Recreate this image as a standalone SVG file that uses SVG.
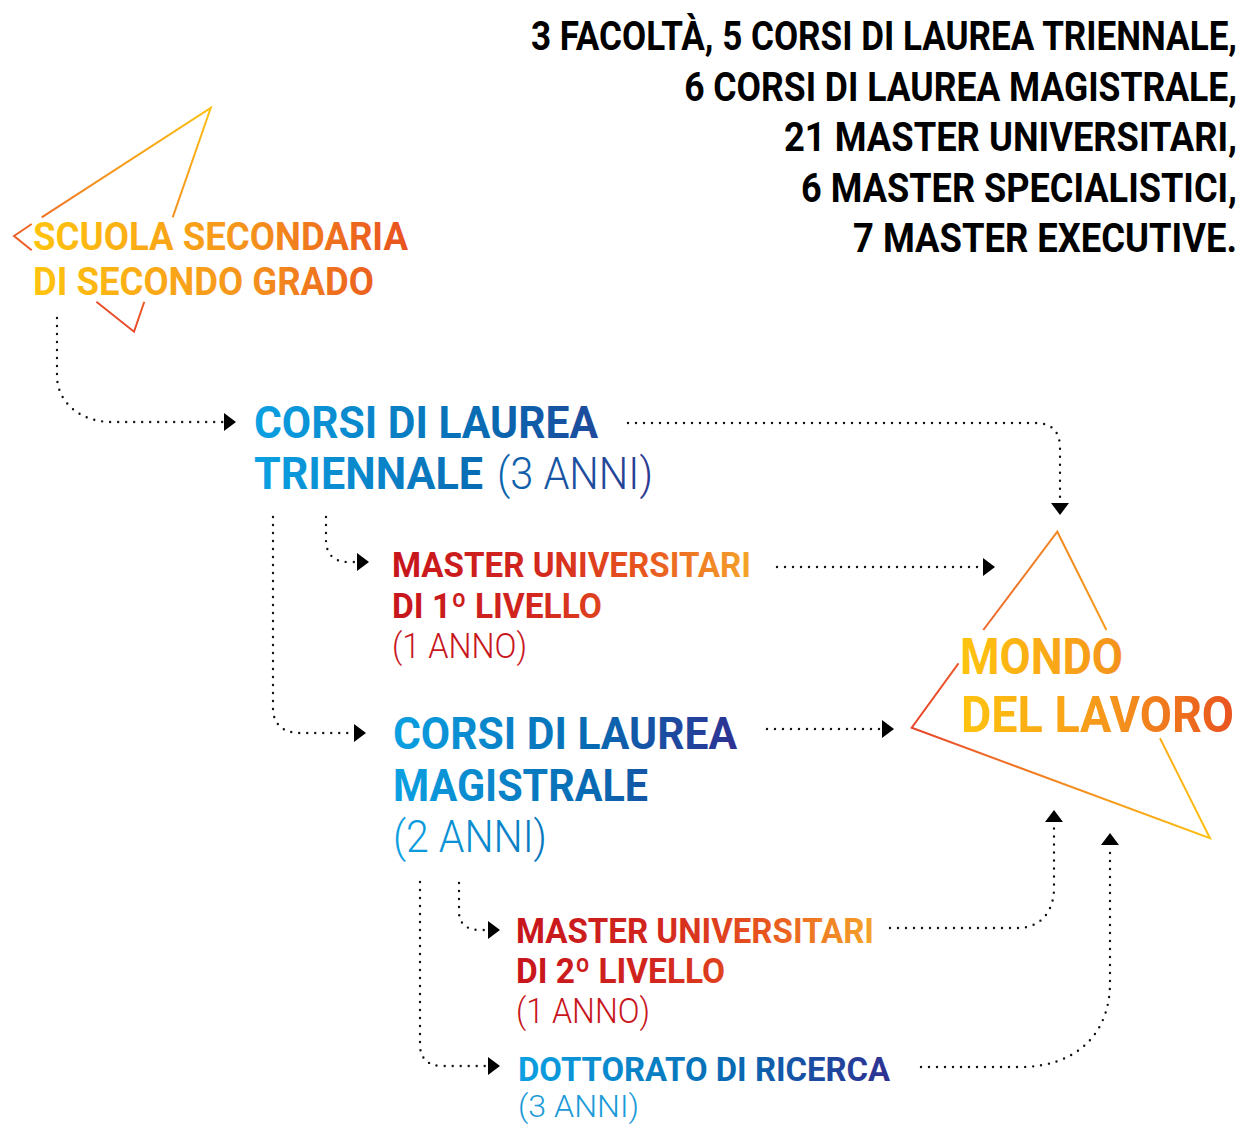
<svg xmlns="http://www.w3.org/2000/svg" width="1241" height="1124" viewBox="0 0 1241 1124">
  <defs>
    <style>
      text { font-family: Roboto, "Liberation Sans", sans-serif; }
      .b { font-weight: 700; }
      .r { font-weight: 300; }
      .blk { fill: #000; font-size: 40px; font-weight: 700; text-anchor: end; }
      .dot { fill: none; stroke: #111; stroke-width: 2.4; stroke-linecap: round; stroke-dasharray: 0 8; marker-end: url(#arr); }
      .tri { fill: none; stroke-width: 2; stroke-linejoin: miter; stroke-linecap: butt; }
    </style>
    <marker id="arr" viewBox="0 0 12 18" refX="0" refY="9" markerWidth="12" markerHeight="18" markerUnits="userSpaceOnUse" orient="auto">
      <path d="M0,0 L12,9 L0,18 Z" fill="#000"/>
    </marker>
    <linearGradient id="gTri1" gradientUnits="userSpaceOnUse" x1="210" y1="108" x2="110" y2="330">
      <stop offset="0" stop-color="#FDC010"/>
      <stop offset="0.5" stop-color="#F38E20"/>
      <stop offset="1" stop-color="#E8432A"/>
    </linearGradient>
    <linearGradient id="gTri2" gradientUnits="userSpaceOnUse" x1="912" y1="0" x2="1210" y2="0">
      <stop offset="0" stop-color="#E8432A"/>
      <stop offset="0.5" stop-color="#F38A22"/>
      <stop offset="1" stop-color="#FDC010"/>
    </linearGradient>
    <linearGradient id="gScuola" gradientUnits="userSpaceOnUse" x1="33" y1="0" x2="408" y2="0">
      <stop offset="0" stop-color="#FFC40E"/>
      <stop offset="0.55" stop-color="#F5961C"/>
      <stop offset="1" stop-color="#E8521F"/>
    </linearGradient>
    <linearGradient id="gMondo" gradientUnits="userSpaceOnUse" x1="960" y1="0" x2="1235" y2="0">
      <stop offset="0" stop-color="#FFC40E"/>
      <stop offset="0.55" stop-color="#F5961C"/>
      <stop offset="1" stop-color="#E8521F"/>
    </linearGradient>
    <linearGradient id="gMondoL" gradientUnits="userSpaceOnUse" x1="-291.5" y1="0" x2="1" y2="0">
      <stop offset="0" stop-color="#FFC40E"/>
      <stop offset="0.55" stop-color="#F5961C"/>
      <stop offset="1" stop-color="#E8521F"/>
    </linearGradient>
    <linearGradient id="gTri" gradientUnits="userSpaceOnUse" x1="254" y1="0" x2="653" y2="0">
      <stop offset="0" stop-color="#0BA1E2"/>
      <stop offset="0.6" stop-color="#0868B0"/>
      <stop offset="1" stop-color="#2B3990"/>
    </linearGradient>
    <linearGradient id="gMag" gradientUnits="userSpaceOnUse" x1="393" y1="0" x2="737" y2="0">
      <stop offset="0" stop-color="#0BA1E2"/>
      <stop offset="0.6" stop-color="#0868B0"/>
      <stop offset="1" stop-color="#2E3192"/>
    </linearGradient>
    <linearGradient id="gDott" gradientUnits="userSpaceOnUse" x1="518" y1="0" x2="890" y2="0">
      <stop offset="0" stop-color="#0BA1E2"/>
      <stop offset="0.6" stop-color="#0868B0"/>
      <stop offset="1" stop-color="#2E3192"/>
    </linearGradient>
    <linearGradient id="gM1" gradientUnits="userSpaceOnUse" x1="392" y1="0" x2="752" y2="0">
      <stop offset="0" stop-color="#C6151C"/>
      <stop offset="0.4" stop-color="#D2261E"/>
      <stop offset="0.7" stop-color="#E8561F"/>
      <stop offset="1" stop-color="#F5A52A"/>
    </linearGradient>
    <linearGradient id="gM2" gradientUnits="userSpaceOnUse" x1="516" y1="0" x2="874" y2="0">
      <stop offset="0" stop-color="#C6151C"/>
      <stop offset="0.4" stop-color="#D2261E"/>
      <stop offset="0.7" stop-color="#E8561F"/>
      <stop offset="1" stop-color="#F5A52A"/>
    </linearGradient>
  </defs>

  <rect width="1241" height="1124" fill="#fff"/>

  <g id="stats">
    <text class="blk" transform="translate(1237,50) scale(0.876,1)" textLength="806" lengthAdjust="spacingAndGlyphs">3 FACOLTÀ, 5 CORSI DI LAUREA TRIENNALE,</text>
    <text class="blk" transform="translate(1237,101) scale(0.886,1)" textLength="624" lengthAdjust="spacingAndGlyphs">6 CORSI DI LAUREA MAGISTRALE,</text>
    <text class="blk" transform="translate(1237,151) scale(0.906,1)" textLength="500" lengthAdjust="spacingAndGlyphs">21 MASTER UNIVERSITARI,</text>
    <text class="blk" transform="translate(1237,202) scale(0.9,1)" textLength="484.4" lengthAdjust="spacingAndGlyphs">6 MASTER SPECIALISTICI,</text>
    <text class="blk" transform="translate(1237,252) scale(0.893,1)" textLength="430" lengthAdjust="spacingAndGlyphs">7 MASTER EXECUTIVE.</text>
  </g>

  <g id="scuola">
    <path class="tri" stroke="url(#gTri1)" d="M41.7,217.3 L210.7,108 L172.7,217.3 M144.3,301.7 L134,331.7 L96.4,301.7 M31.7,224 L14,236 L31.7,250.3"/>
    <text class="b" fill="url(#gScuola)" font-size="39" x="33" y="250" textLength="375" lengthAdjust="spacingAndGlyphs">SCUOLA SECONDARIA</text>
    <text class="b" fill="url(#gScuola)" font-size="39" x="33" y="295" textLength="341" lengthAdjust="spacingAndGlyphs">DI SECONDO GRADO</text>
  </g>

  <g id="triennale">
    <text class="b" fill="url(#gTri)" font-size="45" x="254" y="438" textLength="344" lengthAdjust="spacingAndGlyphs">CORSI DI LAUREA</text>
    <text class="b" fill="url(#gTri)" font-size="45" x="254" y="489" textLength="229" lengthAdjust="spacingAndGlyphs">TRIENNALE</text>
    <text class="r" fill="url(#gTri)" font-size="45" x="497" y="489" textLength="156" lengthAdjust="spacingAndGlyphs">(3 ANNI)</text>
  </g>

  <g id="master1">
    <text class="b" fill="url(#gM1)" font-size="35" x="392" y="577" textLength="359" lengthAdjust="spacingAndGlyphs">MASTER UNIVERSITARI</text>
    <text class="b" fill="url(#gM1)" font-size="35" x="392" y="618" textLength="210" lengthAdjust="spacingAndGlyphs">DI 1º LIVELLO</text>
    <text class="r" fill="#C8161D" font-size="35" x="392" y="658" textLength="135" lengthAdjust="spacingAndGlyphs">(1 ANNO)</text>
  </g>

  <g id="magistrale">
    <text class="b" fill="url(#gMag)" font-size="45" x="393" y="749" textLength="344" lengthAdjust="spacingAndGlyphs">CORSI DI LAUREA</text>
    <text class="b" fill="url(#gMag)" font-size="45" x="393" y="801" textLength="255" lengthAdjust="spacingAndGlyphs">MAGISTRALE</text>
    <text class="r" fill="url(#gMag)" font-size="45" x="393" y="852" textLength="154" lengthAdjust="spacingAndGlyphs">(2 ANNI)</text>
  </g>

  <g id="mondo">
    <path class="tri" stroke="url(#gTri2)" d="M983.3,630 L1057.3,531.7 L1106.4,630 M1160,738.3 L1210,838.3 L911.7,727.7 L958.5,663.3"/>
    <text class="b" fill="url(#gMondo)" font-size="50" x="960" y="674" textLength="163" lengthAdjust="spacingAndGlyphs">MONDO</text>
    <text class="b" fill="url(#gMondoL)" font-size="50" transform="translate(1234,732) scale(0.94,1)" text-anchor="end" textLength="290.4" lengthAdjust="spacingAndGlyphs">DEL LAVORO</text>
  </g>

  <g id="master2">
    <text class="b" fill="url(#gM2)" font-size="35" x="516" y="943" textLength="358" lengthAdjust="spacingAndGlyphs">MASTER UNIVERSITARI</text>
    <text class="b" fill="url(#gM2)" font-size="35" x="516" y="983" textLength="209" lengthAdjust="spacingAndGlyphs">DI 2º LIVELLO</text>
    <text class="r" fill="#C8161D" font-size="35" x="516" y="1023" textLength="134" lengthAdjust="spacingAndGlyphs">(1 ANNO)</text>
  </g>

  <g id="dottorato">
    <text class="b" fill="url(#gDott)" font-size="34" x="518" y="1081" textLength="372" lengthAdjust="spacingAndGlyphs">DOTTORATO DI RICERCA</text>
    <text class="r" fill="#1A9AD8" font-size="32" x="518" y="1117" textLength="121" lengthAdjust="spacingAndGlyphs">(3 ANNI)</text>
  </g>

  <g id="connectors">
    <path class="dot" d="M57,318 V376 C57,402 80,422 112,422 H224"/>
    <path class="dot" d="M628,423 H1035 Q1060,423 1060,448 V503"/>
    <path class="dot" d="M326,517 V540 C326,554 334,562 348,562 H357"/>
    <path class="dot" d="M273,517 V708 C273,724 283,733 300,733 H354"/>
    <path class="dot" d="M777,567 H983"/>
    <path class="dot" d="M767,729 H882"/>
    <path class="dot" d="M459,883 V912 C459,924 467,930 480,930 H488"/>
    <path class="dot" d="M420,882 V1045 C420,1058 428,1066 442,1066 H488"/>
    <path class="dot" d="M890,928 H1018 C1040,928 1054,912 1054,888 V822"/>
    <path class="dot" d="M921,1067 H1020 C1075,1067 1110,1035 1110,983 V845"/>
  </g>
</svg>
